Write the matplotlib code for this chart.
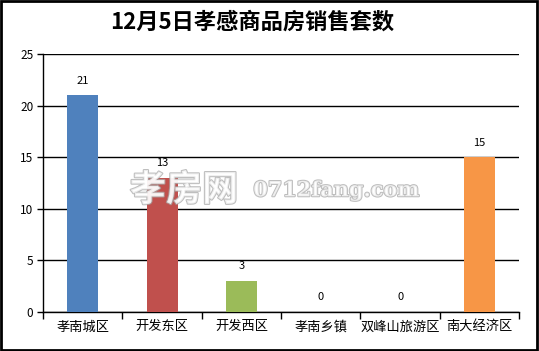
import matplotlib
matplotlib.use("Agg")
import matplotlib.pyplot as plt
import matplotlib.patheffects as pe
from matplotlib.patches import Rectangle

plt.rcParams['font.family'] = ['Noto Sans CJK SC', 'DejaVu Sans']

# data
districts = ["孝南城区", "开发东区", "开发西区", "孝南乡镇", "双峰山旅游区", "南大经济区"]
sales = [21, 13, 3, 0, 0, 15]
bar_colors = ["#4F81BD", "#C0504D", "#9BBB59", "#9BBB59", "#9BBB59", "#F79646"]
title = "12月5日孝感商品房销售套数"
y_ticks = [0, 5, 10, 15, 20, 25]

fig = plt.figure(figsize=(5.39, 3.51), dpi=100)
ax = fig.add_axes([0.080, 0.111, 0.883, 0.735])

x = list(range(len(districts)))
bars = ax.bar(x, sales, width=0.39, color=bar_colors, zorder=3)

for xi, v in zip(x, sales):
    ax.annotate(str(v), (xi, v), xytext=(0, 7), textcoords="offset points",
                ha="center", va="bottom", fontsize=8, zorder=4)

ax.set_xlim(-0.5, len(districts) - 0.5)
ax.set_ylim(0, 25)
ax.set_yticks(y_ticks)
ax.tick_params(axis="y", length=4, width=1, labelsize=8.5, pad=3)
ax.yaxis.grid(True, color="black", linewidth=1, zorder=0)

# x tick marks between the categories, labels at centres
ax.set_xticks([i + 0.5 for i in range(-1, len(districts))])
ax.set_xticklabels([])
ax.set_xticks(x, minor=True)
ax.set_xticklabels(districts, minor=True, fontsize=9.5)
ax.tick_params(axis="x", which="major", length=5, width=1, direction="out")
ax.tick_params(axis="x", which="minor", length=0, pad=6)

for s in ["top", "right"]:
    ax.spines[s].set_visible(False)
ax.spines["left"].set_linewidth(1)
ax.spines["bottom"].set_linewidth(1)

fig.text(0.468, 0.937, title, ha="center", va="center", fontsize=16,
         fontweight="bold", color="black")

# watermark
wm = [pe.withStroke(linewidth=1.5, foreground="#a8a8a8")]
fig.text(0.241, 0.458, "孝房网", fontsize=26, fontweight="bold", color="white",
         alpha=0.75, ha="left", va="center", path_effects=wm, zorder=10)
fig.text(0.470, 0.458, "0712fang.com", family="DejaVu Serif", fontsize=15,
         fontweight="bold", color="white", alpha=0.75, ha="left", va="center",
         path_effects=wm, zorder=10)

fig.patches.append(Rectangle((0.002, 0.003), 0.995, 0.994, transform=fig.transFigure,
                             fill=False, edgecolor="black", linewidth=2))

fig.savefig("out.png", dpi=100)
